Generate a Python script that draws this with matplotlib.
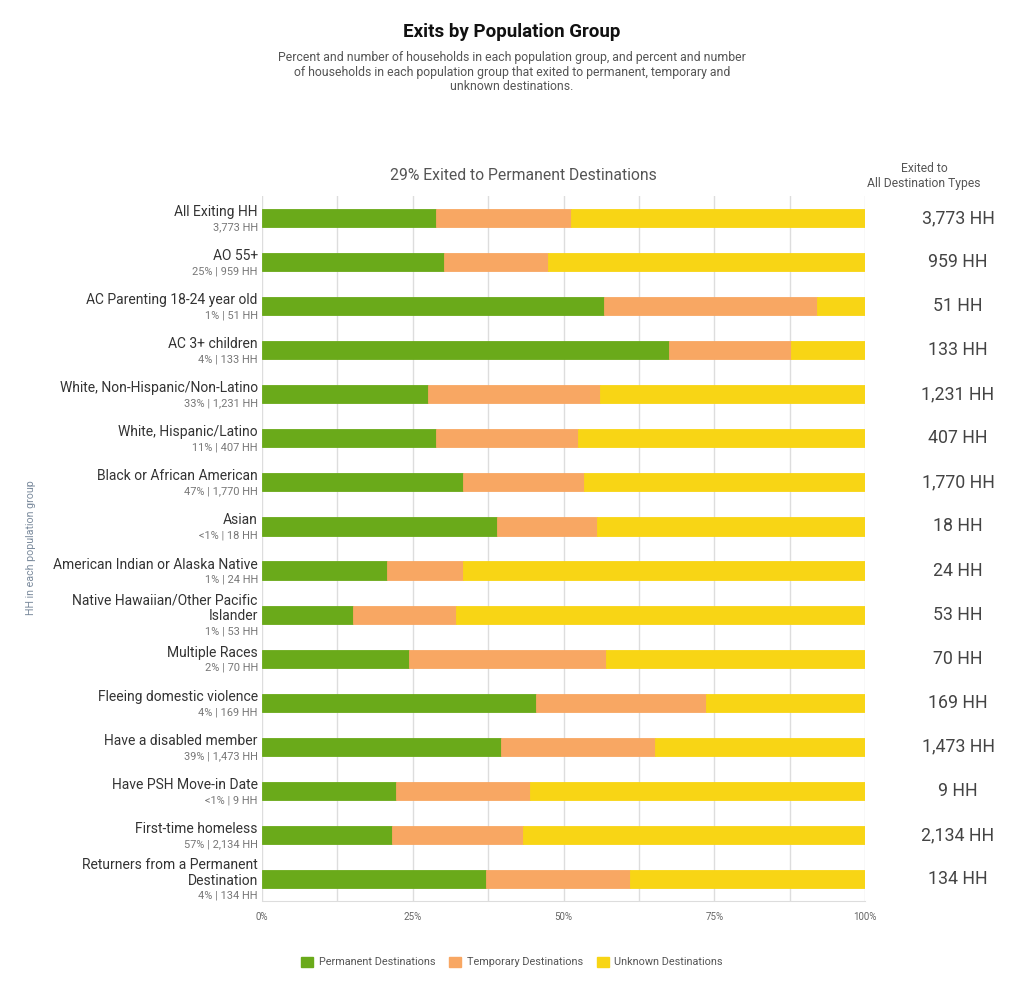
import matplotlib
matplotlib.use("Agg")
import matplotlib.pyplot as plt
from matplotlib.patches import Patch
from matplotlib.transforms import blended_transform_factory, offset_copy
import numpy as np

plt.rcParams['font.family'] = ['Roboto', 'DejaVu Sans']

categories = [
    "All Exiting HH", "AO 55+", "AC Parenting 18-24 year old", "AC 3+ children",
    "White, Non-Hispanic/Non-Latino", "White, Hispanic/Latino", "Black or African American",
    "Asian", "American Indian or Alaska Native", "Native Hawaiian/Other Pacific\nIslander",
    "Multiple Races", "Fleeing domestic violence", "Have a disabled member",
    "Have PSH Move-in Date", "First-time homeless", "Returners from a Permanent\nDestination",
]
sublabels = [
    "3,773 HH", "25% | 959 HH", "1% | 51 HH", "4% | 133 HH", "33% | 1,231 HH",
    "11% | 407 HH", "47% | 1,770 HH", "<1% | 18 HH", "1% | 24 HH", "1% | 53 HH",
    "2% | 70 HH", "4% | 169 HH", "39% | 1,473 HH", "<1% | 9 HH", "57% | 2,134 HH",
    "4% | 134 HH",
]
totals = ["3,773 HH", "959 HH", "51 HH", "133 HH", "1,231 HH", "407 HH", "1,770 HH",
          "18 HH", "24 HH", "53 HH", "70 HH", "169 HH", "1,473 HH", "9 HH",
          "2,134 HH", "134 HH"]
permanent = [28.8, 30.1, 56.7, 67.5, 27.5, 28.8, 33.3, 38.9, 20.8, 15.1, 24.3, 45.5, 39.7, 22.2, 21.6, 37.1]
temporary = [22.5, 17.4, 35.4, 20.2, 28.6, 23.6, 20.1, 16.7, 12.5, 17.0, 32.8, 28.2, 25.4, 22.2, 21.7, 23.9]
unknown = [100 - p - t for p, t in zip(permanent, temporary)]

series_names = ["Permanent Destinations", "Temporary Destinations", "Unknown Destinations"]
colors = ["#6aaa1a", "#f8a763", "#f8d515"]
xticks = [0, 25, 50, 75, 100]
xticklabels = ["0%", "25%", "50%", "75%", "100%"]

W, H = 1024, 993
fig = plt.figure(figsize=(W / 100, H / 100), dpi=100)
ax = fig.add_axes([262 / W, (H - 901) / H, (865 - 262) / W, (901 - 196) / H])

n = len(categories)
y = np.arange(n)
left = np.zeros(n)
for vals, c, name in zip([permanent, temporary, unknown], colors, series_names):
    ax.barh(y, vals, left=left, height=0.41, color=c, edgecolor=c, linewidth=0.6,
            label=name, zorder=3)
    left = left + np.array(vals)

ax.set_xlim(0, 100)
ax.set_ylim(n - 0.5, -0.5)
ax.set_xticks(xticks)
ax.set_xticklabels(xticklabels, fontsize=7, color='#666666')
ax.set_xticks(np.arange(0, 100.1, 12.5), minor=True)
ax.grid(axis='x', which='both', color='#dddddd', linewidth=1, zorder=0)
ax.tick_params(axis='x', which='both', length=0, pad=8)
ax.set_yticks([])
for s in ['top', 'right', 'left']:
    ax.spines[s].set_visible(False)
ax.spines['bottom'].set_color('#dddddd')

# y labels
trans = blended_transform_factory(ax.transAxes, ax.transData)
step = 11.0
for i, (lab, sub) in enumerate(zip(categories, sublabels)):
    lines = lab.split("\n")
    nl = len(lines)
    for k, line in enumerate(lines + [sub]):
        off = -(k - nl / 2) * step - 1.2
        t = offset_copy(trans, fig=fig, x=-3, y=off, units='points')
        if k < nl:
            ax.text(0, i, line, transform=t, ha='right', va='center',
                    fontsize=10, color='#333333')
        else:
            ax.text(0, i, line, transform=t, ha='right', va='center',
                    fontsize=7.9, color='#777777')
    ax.text(958 / W, i, totals[i],
            transform=blended_transform_factory(fig.transFigure, ax.transData),
            ha='center', va='center', fontsize=12.8, color='#444444')

fig.text(924 / W, 1 - 176 / H, "Exited to\nAll Destination Types", ha='center', va='center',
         fontsize=8.7, color='#555555', linespacing=1.3)
fig.text(523 / W, 1 - 176 / H, "29% Exited to Permanent Destinations", ha='center', va='center',
         fontsize=11.3, color='#555555')

fig.text(512 / W, 1 - 32 / H, "Exits by Population Group", ha='center', va='center',
         fontsize=13.5, fontweight='bold', color='#111111')
fig.text(512 / W, 1 - 72 / H,
         "Percent and number of households in each population group, and percent and number\n"
         "of households in each population group that exited to permanent, temporary and\n"
         "unknown destinations.",
         ha='center', va='center', fontsize=8.8, color='#555555', linespacing=1.17)

fig.text(31 / W, 1 - 548 / H, "HH in each population group", rotation=90, ha='center',
         va='center', fontsize=7.7, color='#7a8a9c')

handles = [Patch(facecolor=c, edgecolor=c, label=nm) for c, nm in zip(colors, series_names)]
fig.legend(handles=handles, loc='center', bbox_to_anchor=(512 / W, 1 - 962 / H), ncol=3,
           frameon=False, fontsize=7.8, handlelength=1.1, handleheight=1.1,
           columnspacing=1.3, handletextpad=0.5, labelcolor='#555555')

fig.savefig("out.png", dpi=100)
